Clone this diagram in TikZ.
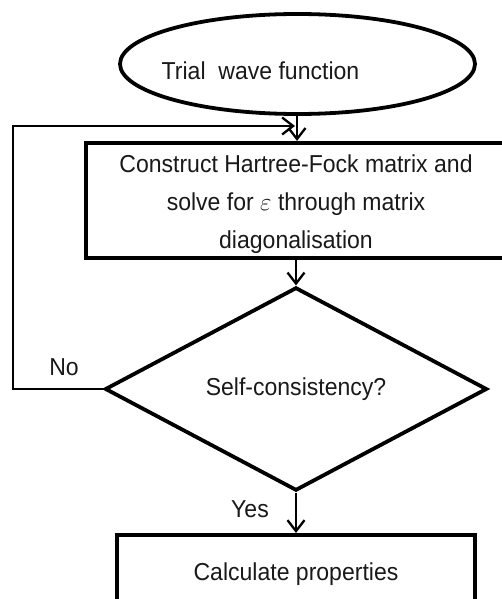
\documentclass[tikz,border=0pt]{standalone}
\usepackage{fontspec}
\setmainfont[FakeStretch=0.94]{Liberation Sans}
\usetikzlibrary{shapes.geometric,arrows.meta}
\begin{document}
\begin{tikzpicture}[x=1pt,y=-1pt,
  every node/.style={font=\fontsize{24.5}{38}\selectfont, text=black!90},
  shapeline/.style={draw=black, line width=3.8pt},
  conn/.style={draw=black, line width=2.3pt},
  arr/.style={conn, -{Straight Barb[length=11pt,width=17pt,line width=2.3pt]}},
  txt/.style={inner sep=0pt, anchor=base}
]
\useasboundingbox (0,0) rectangle (502,599);
\clip (0,0) rectangle (502,599);
% nodes
\node[shapeline, ellipse, minimum width=355pt, minimum height=100pt, inner sep=0pt] (start) at (297.5,64) {};
\node[txt] (starttext) at (260.5,80) {Trial\ \ wave function};
\node[shapeline, rectangle, minimum width=422pt, minimum height=115pt, inner sep=0pt, line width=4.2pt] (hf) at (297,200.5) {};
\node[inner sep=0pt, align=center] (hftext) at (296,204) {Construct Hartree-Fock matrix and\\solve for $\varepsilon$ through matrix\\diagonalisation};
\node[shapeline, diamond, minimum width=382pt, minimum height=199pt, inner sep=0pt] (dia) at (296,389) {Self-consistency?};
\node[shapeline, rectangle, minimum width=358pt, minimum height=78pt, inner sep=0pt, anchor=north, line width=4.2pt] (calc) at (296,533) {Calculate properties};
\node[txt] (no) at (64,375) {No};
\node[txt] (yes) at (250,517) {Yes};
\coordinate (loopx) at (13,0);
\coordinate (fbend) at (295,126);
% connectors
\draw[arr] (start.south -| hf.north) -- (hf.north);
\draw[arr] (hf.south -| dia.north) -- (dia.north);
\draw[arr] (dia.south) -- (dia.south |- calc.north);
\draw[arr] (dia.west) -- (dia.west -| loopx) |- (fbend);
\end{tikzpicture}
\end{document}
